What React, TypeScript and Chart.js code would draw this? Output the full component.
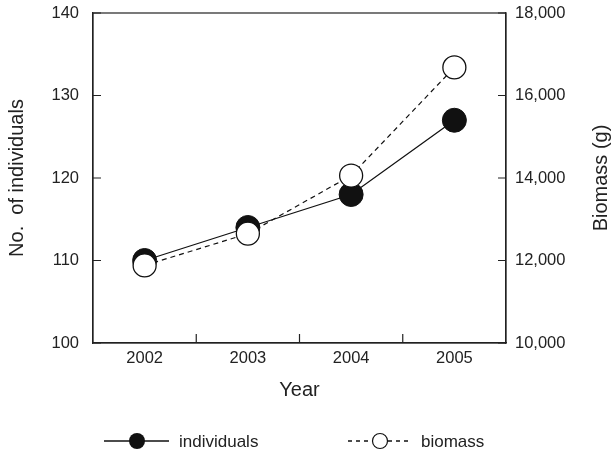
import { useEffect, useRef } from 'react';
import { Chart, registerables } from 'chart.js';

Chart.register(...registerables);

const years = ['2002', '2003', '2004', '2005'];
const individuals = [110, 114, 118, 127];
const biomass = [11880, 12650, 14060, 16680];
const leftRange = [100, 140];
const leftStep = 10;
const rightRange = [10000, 18000];
const rightStep = 2000;
const seriesLabels = ['individuals', 'biomass'];
const axisTitles = { x: 'Year', y: 'No.  of individuals', y2: 'Biomass (g)' };

const FONT = "'Liberation Sans', Arial, Helvetica, sans-serif";
const INK = '#222222';
const LINE = '#111111';

const customPlugin = {
  id: 'customDecor',
  beforeDatasetsDraw(chart: any) {
    const { ctx, chartArea } = chart;
    const { left, right, top, bottom } = chartArea;
    ctx.save();
    ctx.strokeStyle = INK;
    ctx.lineWidth = 1.2;
    ctx.strokeRect(left, top, right - left, bottom - top);
    // inward tick marks taken from the scales
    const ys = chart.scales.y;
    const y2s = chart.scales.y2;
    const xs = chart.scales.x;
    ctx.beginPath();
    ys.ticks.forEach((t: any) => {
      const py = ys.getPixelForValue(t.value);
      ctx.moveTo(left, py);
      ctx.lineTo(left + 8, py);
    });
    y2s.ticks.forEach((t: any) => {
      const py = y2s.getPixelForValue(t.value);
      ctx.moveTo(right, py);
      ctx.lineTo(right - 8, py);
    });
    for (let i = 0; i < xs.ticks.length - 1; i++) {
      const px = (xs.getPixelForValue(i) + xs.getPixelForValue(i + 1)) / 2;
      ctx.moveTo(px, bottom);
      ctx.lineTo(px, bottom - 9);
    }
    ctx.stroke();
    ctx.restore();
  },
  afterDraw(chart: any) {
    const { ctx, chartArea } = chart;
    // right axis title (reads bottom-to-top)
    ctx.save();
    ctx.fillStyle = INK;
    ctx.font = `20px ${FONT}`;
    ctx.translate(601, (chartArea.top + chartArea.bottom) / 2);
    ctx.rotate(-Math.PI / 2);
    ctx.textAlign = 'center';
    ctx.textBaseline = 'middle';
    ctx.fillText(axisTitles.y2, 0, 0);
    ctx.restore();

    // legend
    const ds = chart.data.datasets;
    const y = 441;
    ctx.save();
    ctx.font = `17px ${FONT}`;
    ctx.textBaseline = 'middle';
    ctx.textAlign = 'left';
    ctx.strokeStyle = LINE;
    ctx.lineWidth = 1.3;
    ctx.setLineDash([]);
    ctx.beginPath();
    ctx.moveTo(104, y);
    ctx.lineTo(169, y);
    ctx.stroke();
    ctx.beginPath();
    ctx.arc(137, y, 8, 0, Math.PI * 2);
    ctx.fillStyle = LINE;
    ctx.fill();
    ctx.fillStyle = INK;
    ctx.fillText(ds[1].label, 179, y + 1);

    ctx.setLineDash([4, 4]);
    ctx.beginPath();
    ctx.moveTo(348, y);
    ctx.lineTo(372, y);
    ctx.moveTo(388, y);
    ctx.lineTo(410, y);
    ctx.stroke();
    ctx.setLineDash([]);
    ctx.beginPath();
    ctx.arc(380, y, 7.5, 0, Math.PI * 2);
    ctx.fillStyle = '#ffffff';
    ctx.fill();
    ctx.lineWidth = 1.2;
    ctx.stroke();
    ctx.fillStyle = INK;
    ctx.fillText(ds[0].label, 421, y + 1);
    ctx.restore();
  },
};

export default function App() {
  const ref = useRef<HTMLCanvasElement | null>(null);

  useEffect(() => {
    if (!ref.current) return;
    const tickFont = { family: FONT, size: 16.5 };
    const chart = new Chart(ref.current, {
      type: 'line',
      data: {
        labels: years,
        datasets: [
          {
            label: seriesLabels[1],
            data: biomass,
            yAxisID: 'y2',
            borderColor: LINE,
            borderWidth: 1.2,
            borderDash: [5, 4],
            pointRadius: 11.5,
            pointHoverRadius: 11.5,
            pointBackgroundColor: '#ffffff',
            pointBorderColor: LINE,
            pointBorderWidth: 1.3,
            tension: 0,
            fill: false,
            order: 0,
          },
          {
            label: seriesLabels[0],
            data: individuals,
            yAxisID: 'y',
            borderColor: LINE,
            borderWidth: 1.3,
            pointRadius: 12,
            pointHoverRadius: 12,
            pointBackgroundColor: LINE,
            pointBorderColor: LINE,
            pointBorderWidth: 1,
            tension: 0,
            fill: false,
            order: 1,
          },
        ],
      },
      options: {
        animation: false,
        responsive: true,
        maintainAspectRatio: false,
        layout: { padding: { top: 9, left: 0, right: 0, bottom: 0 } },
        plugins: {
          legend: { display: false },
          tooltip: { enabled: false },
        },
        events: [],
        scales: {
          x: {
            type: 'category',
            offset: true,
            grid: { display: true, drawOnChartArea: false, drawTicks: false },
            border: { display: true, color: INK, width: 1.2 },
            ticks: { padding: 6, font: tickFont, color: INK, maxRotation: 0 },
            title: {
              display: true,
              text: axisTitles.x,
              font: { family: FONT, size: 20 },
              color: INK,
              padding: { top: 0, bottom: 51 },
            },
            afterFit: (s: any) => {
              s.height = 110;
              s.paddingLeft = 0;
              s.paddingRight = 0;
            },
          },
          y: {
            type: 'linear',
            position: 'left',
            min: leftRange[0],
            max: leftRange[1],
            ticks: { stepSize: leftStep, padding: 14, font: tickFont, color: INK },
            grid: { display: true, drawOnChartArea: false, drawTicks: false },
            border: { display: true, color: INK, width: 1.2 },
            title: {
              display: true,
              text: axisTitles.y,
              font: { family: FONT, size: 20 },
              color: INK,
              padding: { top: 5, bottom: 0 },
            },
            afterFit: (s: any) => {
              s.width = 93;
              s.paddingTop = 0;
              s.paddingBottom = 0;
            },
          },
          y2: {
            type: 'linear',
            position: 'right',
            min: rightRange[0],
            max: rightRange[1],
            ticks: {
              stepSize: rightStep,
              padding: 9,
              font: tickFont,
              color: INK,
              callback: (v: any) => Number(v).toLocaleString('en-US'),
            },
            grid: { display: true, drawOnChartArea: false, drawTicks: false },
            border: { display: true, color: INK, width: 1.2 },
            title: { display: false },
            afterFit: (s: any) => {
              s.width = 108;
              s.paddingTop = 0;
              s.paddingBottom = 0;
            },
          },
        },
      },
      plugins: [customPlugin],
    } as any);
    return () => chart.destroy();
  }, []);

  return (
    <div style={{ position: 'fixed', left: 0, top: 0, width: 614, height: 453, background: '#fff' }}>
      <canvas ref={ref} />
    </div>
  );
}
